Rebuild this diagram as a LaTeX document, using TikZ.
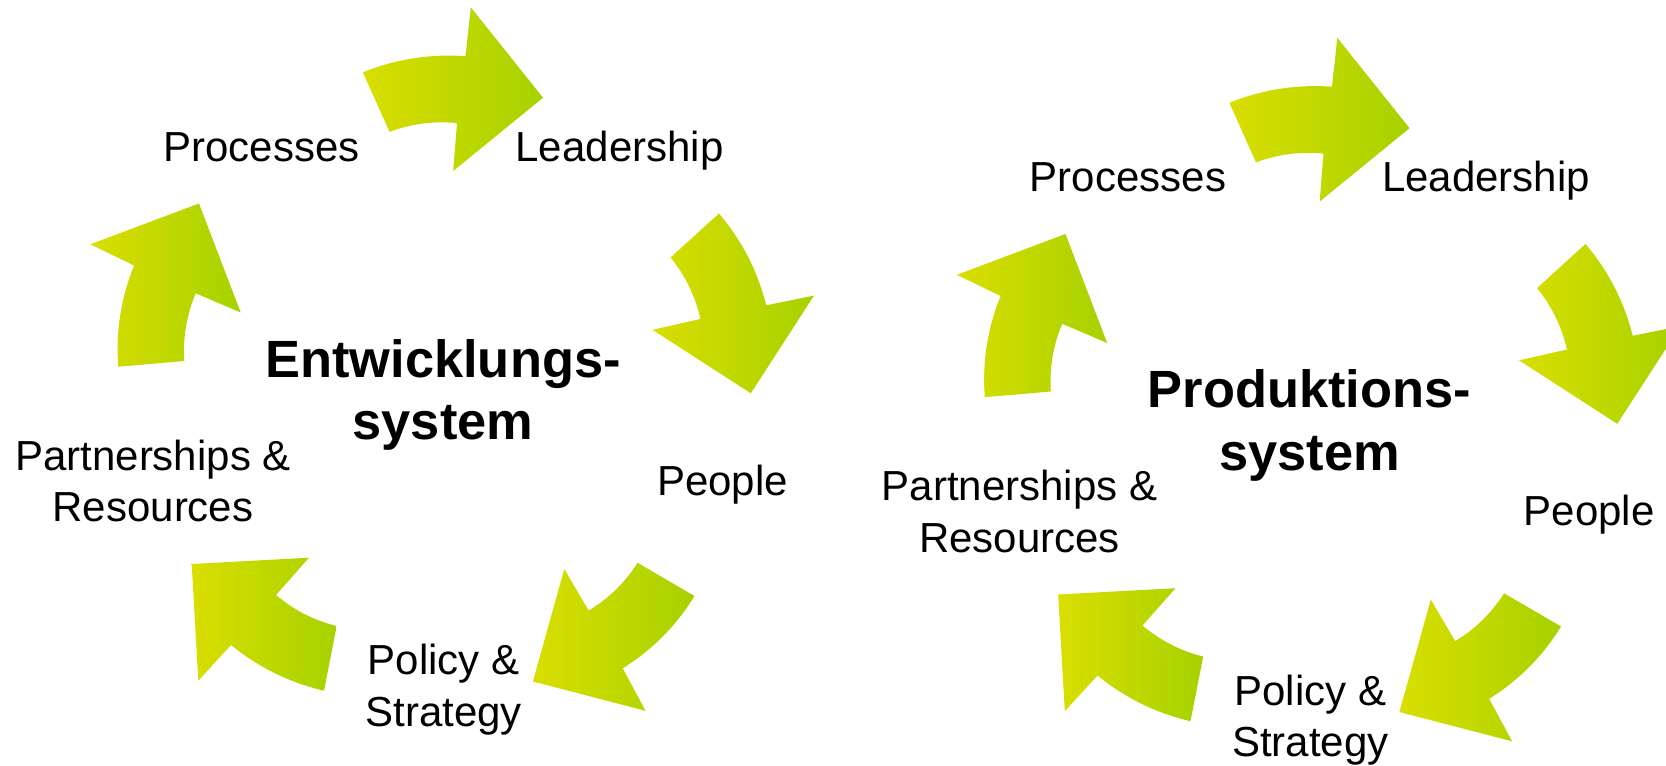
\documentclass[tikz,border=0pt]{standalone}
\usepackage{fontspec}
\setmainfont{Liberation Sans}
\definecolor{arrowyellow}{RGB}{218,222,0}
\definecolor{arrowgreen}{RGB}{166,210,0}
\begin{document}
\begin{tikzpicture}[x=0.5pt,y=-0.5pt,
  bow/.style={left color=arrowyellow, right color=arrowgreen, draw=none},
  lbl/.style={font=\fontsize{21}{25.85}\selectfont, inner sep=0pt, anchor=base, align=center},
  hub/.style={font=\bfseries\fontsize{26.2}{31.35}\selectfont, inner sep=0pt, anchor=base, align=center},
  pics/cycle/.style n args={2}{code={
    % five curved block arrows running clockwise
    \shade[bow] (362.9,72.3) .. controls (395.8,59.0) and (430.0,53.7) .. (465.5,56.2) -- (470.8,7.3)
      -- (543,97.7) -- (453.2,171) -- (457,123.1)
      .. controls (433.8,120.8) and (411.3,123.7) .. (389.5,131.9) -- cycle;
    \shade[bow] (719,213.5) .. controls (741.9,240.4) and (757.6,271.0) .. (766.2,305.3) -- (814,295.6)
      -- (750.8,393.3) -- (652.5,329.8) -- (700.4,319)
      .. controls (695.3,296.2) and (685.3,275.7) .. (670.6,257.5) -- cycle;
    \shade[bow] (694.5,596) .. controls (676.2,625.7) and (652.3,649.8) .. (622.7,668.3) -- (645.6,710.8)
      -- (532.9,681.5) -- (564.3,569.1) -- (588.7,610.6)
      .. controls (608.7,598.5) and (625.0,582.5) .. (637.6,562.8) -- cycle;
    \shade[bow] (324,690.7) .. controls (289.5,682.6) and (258.5,667.4) .. (231,645) -- (198.3,680.7)
      -- (191.7,564) -- (309,557.7) -- (276,595)
      .. controls (293.8,610.1) and (314.0,620.4) .. (336.7,626) -- cycle;
    \shade[bow] (118.3,366.7) .. controls (115.6,331.7) and (120.9,298.0) .. (134.1,265.5) -- (90.3,244.3)
      -- (199,203.5) -- (240.7,312.5) -- (195.7,293.3)
      .. controls (186.6,315.0) and (182.8,337.5) .. (184.3,361) -- cycle;
    % labels (multi-line nodes sit on the baseline of their last line)
    \node[lbl] (-proc) at (261.5,161) {Processes};
    \node[lbl] (-lead) at (619.5,161) {Leadership};
    \node[lbl] (-people) at (722.6,495) {People};
    \node[lbl] (-policy) at (443.7,726.4) {Policy \&\\Strategy};
    \node[lbl] (-partners) at (153,521.7) {Partnerships \&\\Resources};
    \node[hub] (-hub) at (443,439.7) {#1\\#2};
  }}
]
\useasboundingbox (0,0) rectangle (1666,766);
\clip (0,0) rectangle (1666,766);
\pic (L) at (0,0) {cycle={Entwicklungs-}{system}};
\pic (R) at (866.5,30.5) {cycle={Produktions-}{system}};
\end{tikzpicture}
\end{document}
